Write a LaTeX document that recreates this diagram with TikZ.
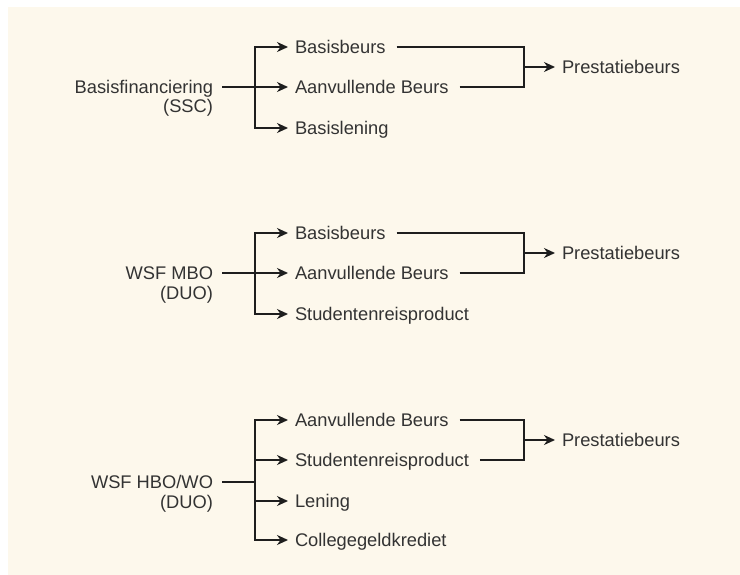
\documentclass[tikz,border=0pt]{standalone}
\usepackage{fontspec}
\setmainfont{Liberation Sans}
\usepackage{xcolor}
\usetikzlibrary{arrows.meta,positioning}
\definecolor{paper}{HTML}{FDF8EC}
\definecolor{inkgray}{HTML}{333333}
\definecolor{linegray}{HTML}{1E1E1E}
\tikzset{
lbl/.style={inner ysep=0pt, inner xsep=7pt, outer sep=0pt, text height=13pt, text depth=0pt,
  font=\fontsize{18.3}{20}\selectfont, text=inkgray}, % all labels
item/.style={lbl, anchor=west}, % labels right of a bus
src/.style={lbl, anchor=east, inner xsep=9pt}, % funding schemes
org/.style={lbl, anchor=east, inner xsep=0pt},
link/.style={line width=2.4pt, draw=linegray},
branch/.style={link, -{Stealth[length=11pt,width=10pt]}},
mergeline/.style={link, shorten <=4pt}
}
\begin{document}
\begin{tikzpicture}[x=1pt, y=-1pt]
    \useasboundingbox (0,0) rectangle (740,575);
    \fill[white] (0,0) rectangle (740,575);
    \fill[paper] (8,7) rectangle (740,575);

    % Basisfinanciering
    \node[src] (fin) at (222,87) {Basisfinanciering};
    \node[org] (finorg) at (213,106) {(SSC)};
    \coordinate (bus1) at (255,87);
    \node[item] (b1a) at (288,47) {Basisbeurs};
    \node[item] (b1b) at (288,87) {Aanvullende Beurs};
    \node[item] (b1c) at (288,128) {Basislening};
    \coordinate (j1) at (524,67);
    \node[item] (p1) at (555,67) {Prestatiebeurs};
    \draw[link] (fin.east) -- (bus1);
    \foreach \n in {b1a,b1b,b1c}
        \draw[branch] (bus1) |- (\n.west);
    \draw[mergeline] (b1a.east) -| (j1);
    \draw[mergeline] (b1b.east) -| (j1);
    \draw[branch] (j1) -- (p1.west);

    % WSF MBO
    \node[src] (mbo) at (222,273) {WSF MBO};
    \node[org] (mboorg) at (213,293) {(DUO)};
    \coordinate (bus2) at (255,273);
    \node[item] (b2a) at (288,233) {Basisbeurs};
    \node[item] (b2b) at (288,273) {Aanvullende Beurs};
    \node[item] (b2c) at (288,314) {Studentenreisproduct};
    \coordinate (j2) at (524,253);
    \node[item] (p2) at (555,253) {Prestatiebeurs};
    \draw[link] (mbo.east) -- (bus2);
    \foreach \n in {b2a,b2b,b2c}
        \draw[branch] (bus2) |- (\n.west);
    \draw[mergeline] (b2a.east) -| (j2);
    \draw[mergeline] (b2b.east) -| (j2);
    \draw[branch] (j2) -- (p2.west);

    % WSF HBO/WO
    \node[src] (hbo) at (222,482) {WSF HBO/WO};
    \node[org] (hboorg) at (213,502) {(DUO)};
    \coordinate (bus3) at (255,482);
    \node[item] (b3a) at (288,420) {Aanvullende Beurs};
    \node[item] (b3b) at (288,460) {Studentenreisproduct};
    \node[item] (b3c) at (288,501) {Lening};
    \node[item] (b3d) at (288,540) {Collegegeldkrediet};
    \coordinate (j3) at (524,440);
    \node[item] (p3) at (555,440) {Prestatiebeurs};
    \draw[link] (hbo.east) -- (bus3);
    \foreach \n in {b3a,b3b,b3c,b3d}
        \draw[branch] (bus3) |- (\n.west);
    \draw[mergeline] (b3a.east) -| (j3);
    \draw[mergeline] (b3b.east) -| (j3);
    \draw[branch] (j3) -- (p3.west);
\end{tikzpicture}
\end{document}
